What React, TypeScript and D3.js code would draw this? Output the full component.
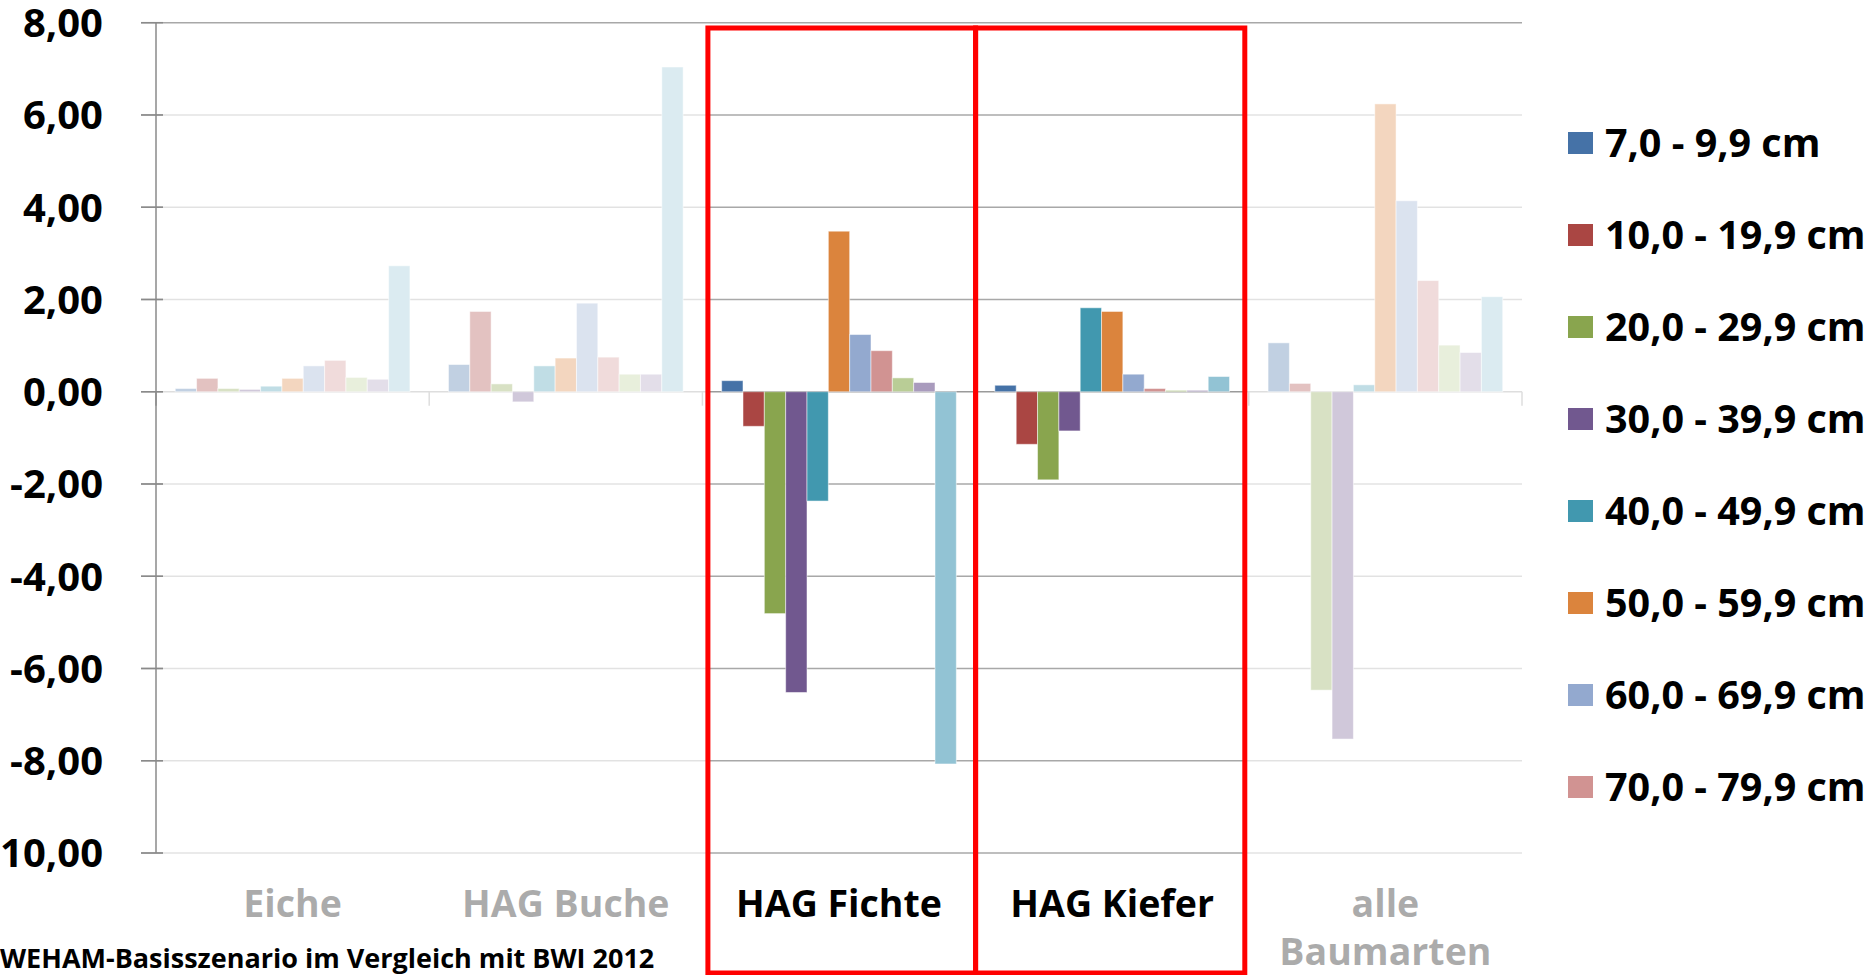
import * as d3 from 'd3';

const categories = ['Eiche', 'HAG Buche', 'HAG Fichte', 'HAG Kiefer', 'alle Baumarten'];
const highlighted = ['HAG Fichte', 'HAG Kiefer'];

const seriesNames = [
  '7,0 - 9,9 cm',
  '10,0 - 19,9 cm',
  '20,0 - 29,9 cm',
  '30,0 - 39,9 cm',
  '40,0 - 49,9 cm',
  '50,0 - 59,9 cm',
  '60,0 - 69,9 cm',
  '70,0 - 79,9 cm',
  '80,0 - 89,9 cm',
  '90,0 - 99,9 cm',
  '≥ 100 cm',
];

// values per category, one per diameter class
const eiche = [0.07, 0.29, 0.07, 0.05, 0.12, 0.29, 0.56, 0.68, 0.31, 0.27, 2.73];
const hagBuche = [0.59, 1.74, 0.17, -0.22, 0.56, 0.73, 1.92, 0.75, 0.38, 0.38, 7.04];
const hagFichte = [0.24, -0.75, -4.81, -6.52, -2.37, 3.48, 1.24, 0.89, 0.3, 0.2, -8.07];
const hagKiefer = [0.14, -1.14, -1.91, -0.85, 1.82, 1.74, 0.38, 0.07, 0.03, 0.03, 0.33];
const alleBaumarten = [1.06, 0.18, -6.47, -7.53, 0.15, 6.24, 4.14, 2.41, 1.01, 0.85, 2.06];

const yTicks = [8, 6, 4, 2, 0, -2, -4, -6, -8, -10];

const colors = [
  '#4572A7', '#AA4643', '#89A54E', '#71588F', '#4198AF', '#DB843D',
  '#93A9CF', '#D19392', '#B9CD96', '#A99BBD', '#92C3D4',
];

// the original legend box is cut after the 8th entry
const legendCount = 8;

const FONT = "'Open Sans', 'DejaVu Sans', sans-serif";

const fmt = d3
  .formatLocale({ decimal: ',', thousands: '.', grouping: [3], currency: ['', ' €'], minus: '-' })
  .format('.2f');

export default function App() {
  const width = 1870;
  const height = 975;
  const rows = [eiche, hagBuche, hagFichte, hagKiefer, alleBaumarten];

  const x0 = d3.scaleBand<string>().domain(categories).range([156, 1522]).padding(0);
  const bw = x0.bandwidth();
  const gap = bw * 0.141;
  const x1 = d3.scaleBand<string>().domain(seriesNames).range([gap / 2, bw - gap / 2]).padding(0);
  const y = d3.scaleLinear().domain([-10, 8]).range([853, 22.7]);

  const left = x0.range()[0];
  const right = x0.range()[1];
  const fichteX = x0('HAG Fichte')!;
  const kieferX = x0('HAG Kiefer')!;
  const boxTop = 28;
  const boxBottom = 973;

  return (
    <svg
      width={width}
      height={height}
      style={{ position: 'absolute', left: 0, top: 0, display: 'block', background: '#fff' }}
      fontFamily={FONT}
    >
      {/* gridlines */}
      {yTicks.map((t) => (
        <line
          key={'g' + t}
          x1={left - 15}
          x2={right}
          y1={y(t)}
          y2={y(t)}
          stroke={t === 0 ? '#9a9a9a' : '#a8a8a8'}
          strokeWidth={1.5}
        />
      ))}

      {/* category ticks on the zero line */}
      {categories.concat(['end']).map((c, i) => {
        const xx = left + i * bw;
        return <line key={'ct' + c} x1={xx} x2={xx} y1={y(0)} y2={y(0) + 14} stroke="#9a9a9a" strokeWidth={1.5} />;
      })}

      {/* bars */}
      {categories.map((c, ci) => (
        <g key={c} transform={`translate(${x0(c)},0)`}>
          {rows[ci].map((v, si) => (
            <rect
              key={si}
              x={x1(seriesNames[si])}
              width={x1.bandwidth()}
              y={y(Math.max(0, v))}
              height={Math.abs(y(v) - y(0))}
              fill={colors[si]}
              stroke="#ffffff"
              strokeOpacity={0.5}
              strokeWidth={1}
            />
          ))}
        </g>
      ))}

      {/* category labels */}
      {categories.map((c) => {
        const cx = x0(c)! + bw / 2;
        const parts = c === 'alle Baumarten' ? ['alle', 'Baumarten'] : [c];
        return (
          <text key={'l' + c} x={cx} textAnchor="middle" fontSize={37.5} fontWeight={700} fill="#000">
            {parts.map((p, i) => (
              <tspan key={p} x={cx} y={904 + i * 48} dy="0.35em">
                {p}
              </tspan>
            ))}
          </text>
        );
      })}

      {/* white veil over the categories that are not highlighted */}
      <rect x={left + 7} y={25} width={fichteX + 5.5 - (left + 7)} height={915} fill="#fff" opacity={0.67} />
      <rect x={kieferX + bw - 2} y={25} width={right + 8 - (kieferX + bw - 2)} height={height - 25} fill="#fff" opacity={0.67} />

      {/* y axis */}
      <line x1={left} x2={left} y1={y(8)} y2={y(-10)} stroke="#8a8a8a" strokeWidth={1.5} />
      {yTicks.map((t) => (
        <g key={'yt' + t}>
          <line x1={left - 15} x2={left + 7} y1={y(t)} y2={y(t)} stroke="#8a8a8a" strokeWidth={1.5} />
          <text x={103} y={y(t)} dy="0.36em" textAnchor="end" fontSize={40} fontWeight={700} fill="#000">
            {fmt(t)}
          </text>
        </g>
      ))}

      {/* red highlight boxes */}
      {highlighted.map((c, i) => {
        const x = x0(c)!;
        const bx1 = i === 0 ? x + 5.5 : x;
        const bx2 = i === 0 ? x + bw : x + bw - 4;
        return (
          <rect
            key={'box' + c}
            x={bx1}
            y={boxTop}
            width={bx2 - bx1}
            height={boxBottom - boxTop}
            fill="none"
            stroke="#ff0000"
            strokeWidth={5}
          />
        );
      })}

      {/* legend */}
      {seriesNames.slice(0, legendCount).map((s, i) => {
        const cy = 143 + i * 92;
        return (
          <g key={'lg' + s}>
            <rect x={1568} y={cy - 11} width={25} height={22} fill={colors[i]} />
            <text x={1605} y={cy} dy="0.36em" fontSize={39.5} fontWeight={700} fill="#000">
              {s}
            </text>
          </g>
        );
      })}

      {/* footer */}
      <text x={0} y={959} dy="0.35em" fontSize={27} fontWeight={700} fill="#000">
        WEHAM-Basisszenario im Vergleich mit BWI 2012
      </text>
    </svg>
  );
}
